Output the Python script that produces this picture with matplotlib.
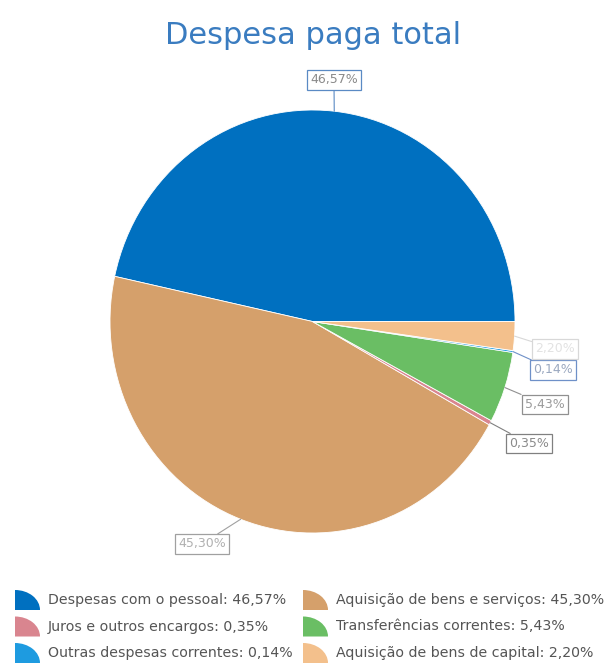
import numpy as np
import matplotlib
matplotlib.use("Agg")
import matplotlib.pyplot as plt
from matplotlib.patches import Wedge
from matplotlib.transforms import Affine2D

# ---- data ----
categories = ["Despesas com o pessoal", "Aquisição de bens e serviços",
              "Juros e outros encargos", "Transferências correntes",
              "Outras despesas correntes", "Aquisição de bens de capital"]
values = [46.57, 45.30, 0.35, 5.43, 0.14, 2.20]
value_labels = ["46,57%", "45,30%", "0,35%", "5,43%", "0,14%", "2,20%"]
colors = ["#0070C0", "#D5A06B", "#D9858F", "#6ABE64", "#1E9BE0", "#F3C08C"]

# label box positions (data units) and styles
label_pos = [(0.106, 1.142), (-0.546, -1.052), (1.069, -0.577),
             (1.146, -0.392), (1.190, -0.229), (1.198, -0.130)]
label_edge = ["#5A8AC4", "#A0A0A0", "#808080", "#909090", "#6E90C8", "#D8D8D8"]
label_text = ["#8A8A8A", "#B0B0B0", "#8A8A8A", "#9A9A9A", "#9AA8C0", "#E2E2E2"]

legend_order = [0, 1, 2, 3, 4, 5]

W, H = 606, 664
fig = plt.figure(figsize=(W / 100, H / 100), dpi=100)
fig.patch.set_facecolor("white")

# pie axes (pixel geometry)
cx, cy = 312.5, 321.5
rx, ry = 202.5, 211.5
aw, ah = 500, 522
ax = fig.add_axes([(cx - aw / 2) / W, (H - (cy + ah / 2)) / H, aw / W, ah / H])
wedges, _ = ax.pie(values, colors=colors, startangle=0, counterclock=True,
                   wedgeprops=dict(edgecolor="white", linewidth=0.6))
ax.set_aspect("auto")
ax.set_xlim(-(aw / 2) / rx, (aw / 2) / rx)
ax.set_ylim(-(ah / 2) / ry, (ah / 2) / ry)
ax.axis("off")

total = sum(values)
cum = np.cumsum([0] + values[:-1])
for i, v in enumerate(values):
    mid = np.deg2rad((cum[i] + v / 2) / total * 360)
    xy = (np.cos(mid), np.sin(mid))
    ax.annotate(value_labels[i], xy=xy, xytext=label_pos[i],
                ha="center", va="center", fontsize=9, color=label_text[i],
                family="DejaVu Sans",
                bbox=dict(boxstyle="square,pad=0.25", fc="white",
                          ec=label_edge[i], lw=0.9),
                arrowprops=dict(arrowstyle="-", color=label_edge[i], lw=0.8,
                                shrinkA=0, shrinkB=0))

# title
fig.text(313 / W, 1 - 35 / H, "Despesa paga total", ha="center", va="center",
         fontsize=22, color="#3A7CC0", family="DejaVu Sans")

# legend (overlay axes in pixel coordinates)
lax = fig.add_axes([0, 0, 1, 1])
lax.set_xlim(0, W)
lax.set_ylim(H, 0)
lax.axis("off")
col_x = [15, 303]
row_y = [600, 626.5, 653]
mw, mh = 25, 20
for k, i in enumerate(legend_order):
    r, c = divmod(k, 2)
    x0 = col_x[c]
    yc = row_y[r]
    w = Wedge((0, 0), 1, 0, 90, facecolor=colors[i], edgecolor="none")
    w.set_transform(Affine2D().scale(mw, -mh).translate(x0, yc + mh / 2)
                    + lax.transData)
    lax.add_patch(w)
    lax.text(x0 + mw + 8, yc, f"{categories[i]}: {value_labels[i]}",
             ha="left", va="center", fontsize=10.2, color="#555555",
             family="DejaVu Sans")

fig.savefig("out.png", dpi=100, facecolor="white")
